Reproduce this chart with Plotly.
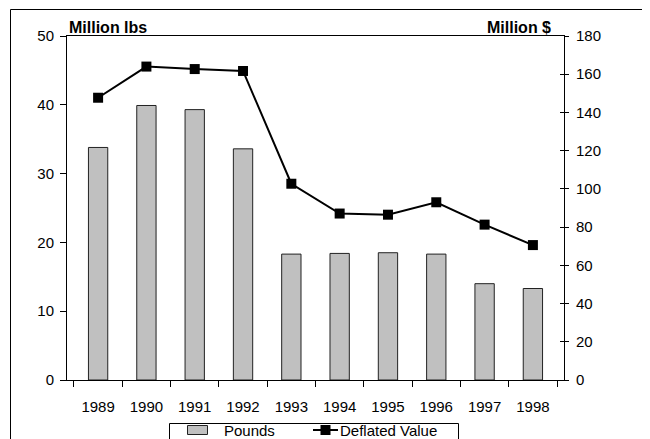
import plotly.graph_objects as go

years = ["1989", "1990", "1991", "1992", "1993", "1994", "1995", "1996", "1997", "1998"]
pounds = [33.8, 39.9, 39.3, 33.6, 18.3, 18.4, 18.5, 18.3, 14.0, 13.3]
deflated_value = [147.7, 164.0, 162.7, 161.7, 102.7, 87.1, 86.5, 93.0, 81.3, 70.6]
left_ticks = [0, 10, 20, 30, 40, 50]
right_ticks = [0, 20, 40, 60, 80, 100, 120, 140, 160, 180]
legend_names = ["Pounds", "Deflated Value"]

FONT = "Liberation Sans, Arial, sans-serif"
# The page body has an 8px margin, so work in figure pixels = screen - 8
OFF = 8
W, H = 650 - OFF, 439 - OFF
L, R, T, B = 67 - OFF, W - (564 - OFF), 36 - OFF, H - (380 - OFF)
pw, ph = W - L - R, H - T - B

def px(x):  # screen x -> paper
    return (x - OFF - L) / pw

def py(y):  # screen y -> paper
    return (H - B - (y - OFF)) / ph

BAR_COLOR = "#c0c0c0"

fig = go.Figure()
fig.add_trace(go.Bar(
    x=years, y=pounds, name=legend_names[0],
    marker=dict(color=BAR_COLOR, line=dict(color="#222222", width=1)),
    width=0.4,
))
fig.add_trace(go.Scatter(
    x=years, y=deflated_value, name=legend_names[1], yaxis="y2",
    mode="lines+markers",
    line=dict(color="black", width=2),
    marker=dict(symbol="square", size=10, color="black"),
))
# invisible trace to drive the inner-tick overlay axis (cross ticks on right axis)
fig.add_trace(go.Scatter(
    x=years, y=deflated_value, yaxis="y3", mode="lines",
    line=dict(width=0), showlegend=False, hoverinfo="skip", opacity=0,
))

fig.update_layout(
    width=W, height=H,
    margin=dict(l=L, r=R, t=T, b=B, autoexpand=False),
    paper_bgcolor="white", plot_bgcolor="white",
    font=dict(family=FONT, size=15, color="black"),
    showlegend=False,
    xaxis=dict(
        type="category", showline=True, linecolor="black", linewidth=1,
        mirror=True, ticks="outside", ticklen=6, tickcolor="black",
        tickson="boundaries", showgrid=False, ticklabelstandoff=13,
    ),
    yaxis=dict(
        range=[0, 50], tickvals=left_ticks, showline=True, linecolor="black",
        linewidth=1, ticks="outside", ticklen=6, tickcolor="black",
        showgrid=False, zeroline=False, ticklabelstandoff=3,
    ),
    yaxis2=dict(
        range=[0, 180], tickvals=right_ticks, overlaying="y", side="right",
        showline=True, linecolor="black", linewidth=1, ticks="outside",
        ticklen=4, tickcolor="black", showgrid=False, zeroline=False,
        ticklabelstandoff=4,
    ),
    yaxis3=dict(
        range=[0, 180], tickvals=right_ticks, overlaying="y", side="right",
        showline=False, ticks="inside", ticklen=4, tickcolor="black",
        showticklabels=False, showgrid=False, zeroline=False,
    ),
    bargap=0.6,
)

fig.add_annotation(
    text="<b>Million lbs</b>", xref="paper", yref="paper", x=0, y=1,
    xanchor="left", yanchor="bottom", showarrow=False,
    font=dict(size=16, family=FONT), yshift=-2,
)
fig.add_annotation(
    text="<b>Million $</b>", xref="paper", yref="paper", x=px(553), y=1,
    xanchor="right", yanchor="bottom", showarrow=False,
    font=dict(size=16, family=FONT), yshift=-2,
)
# outer chart border
fig.add_shape(
    type="rect", xref="paper", yref="paper",
    x0=px(10.5), x1=px(646.5), y0=py(450), y1=py(9.5),
    line=dict(color="black", width=1), fillcolor="rgba(0,0,0,0)", layer="below",
)

# legend (box runs past the bottom edge, as in the reference)
LY = 430
fig.add_shape(
    type="rect", xref="paper", yref="paper",
    x0=px(169.5), x1=px(458.5), y0=py(450), y1=py(LY - 6.5),
    line=dict(color="black", width=1), fillcolor="white",
)
fig.add_shape(
    type="rect", xref="paper", yref="paper",
    x0=px(187.5), x1=px(207.5), y0=py(LY + 4.5), y1=py(LY - 4.5),
    line=dict(color="#222222", width=1), fillcolor=BAR_COLOR,
)
fig.add_shape(
    type="line", xref="paper", yref="paper",
    x0=px(313), x1=px(338), y0=py(LY), y1=py(LY),
    line=dict(color="black", width=2),
)
fig.add_shape(
    type="rect", xref="paper", yref="paper",
    x0=px(320.5), x1=px(330.5), y0=py(LY + 5), y1=py(LY - 5),
    line=dict(color="black", width=0), fillcolor="black",
)
fig.add_annotation(
    text=legend_names[0], xref="paper", yref="paper", x=px(223), y=py(LY),
    xanchor="left", yanchor="middle", showarrow=False,
    font=dict(size=15, family=FONT), borderpad=0,
)
fig.add_annotation(
    text=legend_names[1], xref="paper", yref="paper", x=px(339), y=py(LY),
    xanchor="left", yanchor="middle", showarrow=False,
    font=dict(size=15, family=FONT), borderpad=0,
)

fig.write_html("out.html")
